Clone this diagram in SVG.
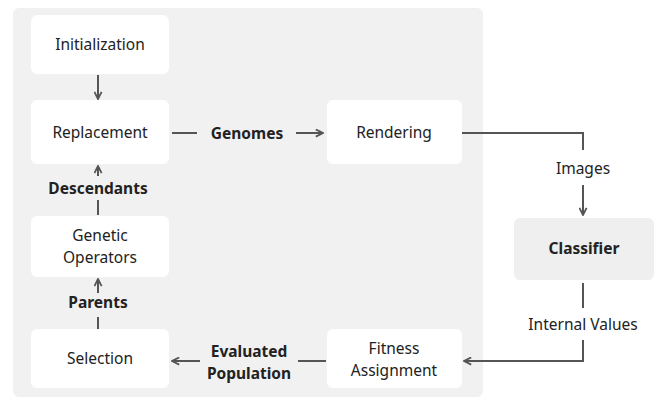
<svg xmlns="http://www.w3.org/2000/svg" width="654" height="399" viewBox="0 0 654 399">
<style>
text{font-family:"Noto Sans","Open Sans","Liberation Sans",sans-serif;font-size:15.5px;fill:#222;text-anchor:middle;dominant-baseline:central}
.b{font-weight:bold}
.node{fill:#fff}
.c{fill:none;stroke:#555;stroke-width:2}
</style>
<defs>
<marker id="ah" viewBox="0 0 10 10" refX="9" refY="5" markerWidth="4.5" markerHeight="4.5" orient="auto" markerUnits="strokeWidth">
<path d="M1,1 L9,5 L1,9" fill="none" stroke="#555" stroke-width="2"/>
</marker>
</defs>
<rect x="13" y="8" width="470" height="389" rx="6" fill="#f1f1f1"/>
<g id="initialization"><rect class="node" x="31" y="15" width="138" height="59" rx="6"/><text x="100" y="44">Initialization</text></g>
<g id="replacement"><rect class="node" x="31" y="100" width="138" height="64" rx="6"/><text x="100" y="132">Replacement</text></g>
<g id="genetic-operators"><rect class="node" x="31" y="216" width="138" height="61" rx="6"/><text x="100" y="235">Genetic</text><text x="100" y="257">Operators</text></g>
<g id="selection"><rect class="node" x="31" y="329" width="138" height="59" rx="6"/><text x="100" y="358">Selection</text></g>
<g id="rendering"><rect class="node" x="327" y="100" width="135" height="64" rx="6"/><text x="394" y="132">Rendering</text></g>
<g id="fitness-assignment"><rect class="node" x="327" y="329" width="135" height="59" rx="6"/><text x="394" y="348">Fitness</text><text x="394" y="370">Assignment</text></g>
<g id="classifier"><rect x="514" y="218" width="140" height="62" rx="6" fill="#efefef"/><text class="b" x="584" y="248">Classifier</text></g>
<g id="connectors">
<path class="c" d="M98,75 V99" marker-end="url(#ah)"/>
<path class="c" d="M172,133 H197"/>
<text class="b" x="247" y="133">Genomes</text>
<path class="c" d="M296,133 H323" marker-end="url(#ah)"/>
<path class="c" d="M462,133 H583 V150"/>
<text x="583" y="168">Images</text>
<path class="c" d="M583,185 V215" marker-end="url(#ah)"/>
<path class="c" d="M583,283 V308"/>
<text x="583" y="324">Internal Values</text>
<path class="c" d="M583,340 V361 H464" marker-end="url(#ah)"/>
<path class="c" d="M326,361 H298"/>
<text class="b" x="249" y="351">Evaluated</text>
<text class="b" x="249" y="373">Population</text>
<path class="c" d="M200,361 H172" marker-end="url(#ah)"/>
<path class="c" d="M98,329 V317"/>
<text class="b" x="98" y="302">Parents</text>
<path class="c" d="M98,293 V279" marker-end="url(#ah)"/>
<path class="c" d="M98,215 V200"/>
<text class="b" x="98" y="188">Descendants</text>
<path class="c" d="M98,176 V166" marker-end="url(#ah)"/>
</g>
</svg>
